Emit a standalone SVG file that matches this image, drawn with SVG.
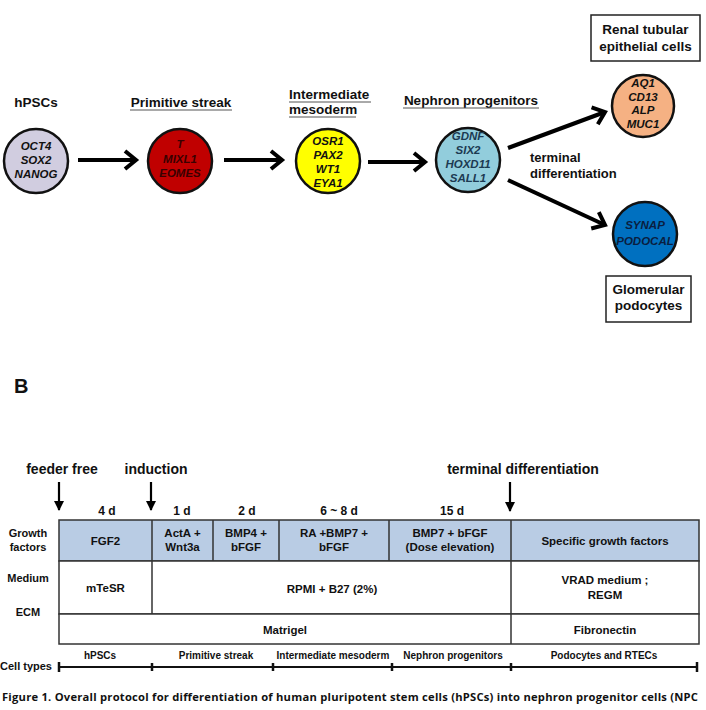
<svg xmlns="http://www.w3.org/2000/svg" width="706" height="710" viewBox="0 0 706 710">
<defs>
<style>
text{font-family:"Liberation Sans",Arial,sans-serif;font-weight:bold;fill:#111}
.hd{font-size:13.5px}
.hc{font-size:13.5px;text-anchor:middle}
.mk{font-size:11.5px;font-style:italic;text-anchor:middle}
.cell{font-size:11.5px;text-anchor:middle}
.rl{font-size:11px;text-anchor:middle}
.ct{font-size:10px;text-anchor:middle}
.dur{font-size:12px;text-anchor:middle}
.ev{font-size:14px;text-anchor:middle}
.circ{stroke:#111;stroke-width:2.5}
.ul{stroke:#555;stroke-width:1}
.arrA{stroke:#000;stroke-width:4;fill:none;stroke-linecap:butt}
.tbl{stroke:#333;stroke-width:1.5}
.box{fill:#fff;stroke:#222;stroke-width:1.5}
</style>
<marker id="chev" markerUnits="userSpaceOnUse" markerWidth="30" markerHeight="30" viewBox="-15 -15 30 30" refX="0" refY="0" orient="auto">
<path d="M-11,-9 L0,0 L-11,9" fill="none" stroke="#000" stroke-width="4" stroke-linejoin="miter"/>
</marker>
<marker id="tri" markerUnits="userSpaceOnUse" markerWidth="14" markerHeight="14" viewBox="-12 -7 14 14" refX="0" refY="0" orient="auto">
<path d="M-9,-5 L1,0 L-9,5 Z" fill="#000"/>
</marker>
</defs>
<rect width="706" height="710" fill="#fff"/>

<!-- Panel A headers -->
<g id="hdr-hpsc"><text class="hc" x="36" y="107">hPSCs</text></g>
<g id="hdr-ps"><text class="hc" x="181" y="107">Primitive streak</text><line class="ul" x1="130" y1="110" x2="232" y2="110"/></g>
<g id="hdr-im"><text class="hd" x="289" y="99">Intermediate</text><line class="ul" x1="289" y1="102" x2="371" y2="102"/>
<text class="hd" x="289" y="114">mesoderm</text><line class="ul" x1="289" y1="117" x2="356" y2="117"/></g>
<g id="hdr-np"><text class="hc" x="471" y="105">Nephron progenitors</text><line class="ul" x1="403" y1="108" x2="539" y2="108"/></g>

<!-- Connectors panel A -->
<g id="connectors-a">
<line class="arrA" x1="78" y1="160" x2="136" y2="160" marker-end="url(#chev)"/>
<line class="arrA" x1="224" y1="160" x2="282" y2="160" marker-end="url(#chev)"/>
<line class="arrA" x1="368" y1="162" x2="425" y2="162" marker-end="url(#chev)"/>
<line class="arrA" x1="508" y1="148" x2="605" y2="112" marker-end="url(#chev)"/>
<line class="arrA" x1="508" y1="180" x2="605" y2="225" marker-end="url(#chev)"/>
</g>
<g id="lbl-term"><text style="font-size:13px" x="530" y="162">terminal</text><text style="font-size:13px" x="530" y="178">differentiation</text></g>

<!-- Nodes panel A -->
<g id="node-hpsc">
<circle class="circ" cx="36" cy="161" r="32" fill="#d1cde0"/>
<text class="mk" x="36" y="150">OCT4</text><text class="mk" x="36" y="164">SOX2</text><text class="mk" x="36" y="178">NANOG</text>
</g>
<g id="node-ps">
<circle class="circ" cx="180" cy="161" r="32" fill="#c00000"/>
<text class="mk" x="180" y="148" style="fill:#3a0000">T</text><text class="mk" x="180" y="163" style="fill:#3a0000">MIXL1</text><text class="mk" x="180" y="177" style="fill:#3a0000">EOMES</text>
</g>
<g id="node-im">
<circle class="circ" cx="328" cy="161" r="32" fill="#ffff00"/>
<text class="mk" x="328" y="145">OSR1</text><text class="mk" x="328" y="159">PAX2</text><text class="mk" x="328" y="173">WT1</text><text class="mk" x="328" y="187">EYA1</text>
</g>
<g id="node-np">
<circle class="circ" cx="468" cy="160" r="32" fill="#92cddc"/>
<text class="mk" x="468" y="140" style="fill:#1c3a52">GDNF</text><text class="mk" x="468" y="154" style="fill:#1c3a52">SIX2</text><text class="mk" x="468" y="168" style="fill:#1c3a52">HOXD11</text><text class="mk" x="468" y="182" style="fill:#1c3a52">SALL1</text>
</g>
<g id="node-rtec">
<circle class="circ" cx="643" cy="106" r="31" fill="#f5b183"/>
<text class="mk" x="643" y="87">AQ1</text><text class="mk" x="643" y="101">CD13</text><text class="mk" x="643" y="114">ALP</text><text class="mk" x="643" y="128">MUC1</text>
</g>
<g id="node-pod">
<circle class="circ" cx="645" cy="234" r="32" fill="#0070c0"/>
<text class="mk" x="645" y="229" style="fill:#0a1e40">SYNAP</text><text class="mk" x="645" y="245" style="fill:#0a1e40">PODOCAL</text>
</g>
<g id="box-rtec">
<rect class="box" x="591" y="15" width="109" height="46"/>
<text class="hc" x="645.5" y="34">Renal tubular</text><text class="hc" x="645.5" y="51">epithelial cells</text>
</g>
<g id="box-pod">
<rect class="box" x="606" y="276" width="85" height="46"/>
<text class="hc" x="648.5" y="294">Glomerular</text><text class="hc" x="648.5" y="310">podocytes</text>
</g>

<!-- Panel B -->
<g id="label-b"><text x="14" y="393" style="font-size:20px">B</text></g>

<g id="events">
<text class="ev" x="62" y="474">feeder free</text>
<text class="ev" x="156" y="474">induction</text>
<text class="ev" x="523" y="474">terminal differentiation</text>
</g>
<g id="connectors-b">
<line x1="59" y1="482" x2="59" y2="510" stroke="#000" stroke-width="2.2" marker-end="url(#tri)"/>
<line x1="151" y1="482" x2="151" y2="510" stroke="#000" stroke-width="2.2" marker-end="url(#tri)"/>
<line x1="510" y1="482" x2="510" y2="511" stroke="#000" stroke-width="2.2" marker-end="url(#tri)"/>
</g>

<g id="durations">
<text class="dur" x="107" y="515">4 d</text>
<text class="dur" x="182" y="515">1 d</text>
<text class="dur" x="247" y="515">2 d</text>
<text class="dur" x="339" y="515">6 ~ 8 d</text>
<text class="dur" x="452" y="515">15 d</text>
</g>

<g id="row-labels">
<text class="rl" x="28" y="537">Growth</text><text class="rl" x="28" y="551">factors</text>
<text class="rl" x="28" y="582">Medium</text>
<text class="rl" x="28" y="616">ECM</text>
<text class="rl" x="26" y="670">Cell types</text>
</g>

<g id="table">
<rect x="59" y="520" width="640" height="41" fill="#b9cce4" class="tbl"/>
<rect x="59" y="561" width="640" height="53" fill="#fff" class="tbl"/>
<rect x="59" y="614" width="640" height="30" fill="#fff" class="tbl"/>
<line class="tbl" x1="152" y1="520" x2="152" y2="614"/>
<line class="tbl" x1="213" y1="520" x2="213" y2="561"/>
<line class="tbl" x1="279" y1="520" x2="279" y2="561"/>
<line class="tbl" x1="389" y1="520" x2="389" y2="561"/>
<line class="tbl" x1="511" y1="520" x2="511" y2="644"/>
</g>
<g id="gf-cells">
<text class="cell" x="105.5" y="545">FGF2</text>
<text class="cell" x="182.5" y="537">ActA +</text><text class="cell" x="182.5" y="551">Wnt3a</text>
<text class="cell" x="246" y="537">BMP4 +</text><text class="cell" x="246" y="551">bFGF</text>
<text class="cell" x="334" y="537">RA +BMP7 +</text><text class="cell" x="334" y="551">bFGF</text>
<text class="cell" x="450" y="537">BMP7 + bFGF</text><text class="cell" x="450" y="551">(Dose elevation)</text>
<text class="cell" x="605" y="545">Specific growth factors</text>
</g>
<g id="medium-cells">
<text class="cell" x="105.5" y="592">mTeSR</text>
<text class="cell" x="332" y="593">RPMI + B27 (2%)</text>
<text class="cell" x="605" y="584">VRAD medium ;</text><text class="cell" x="605" y="599">REGM</text>
</g>
<g id="ecm-cells">
<text class="cell" x="285" y="634">Matrigel</text>
<text class="cell" x="605" y="634">Fibronectin</text>
</g>

<g id="celltype-line">
<line x1="59" y1="667" x2="697" y2="667" stroke="#111" stroke-width="2"/>
<g stroke="#111" stroke-width="2.5">
<line x1="59" y1="662" x2="59" y2="672"/>
<line x1="152" y1="663" x2="152" y2="671"/>
<line x1="273" y1="663" x2="273" y2="671"/>
<line x1="392" y1="663" x2="392" y2="671"/>
<line x1="511" y1="663" x2="511" y2="671"/>
<line x1="697" y1="662" x2="697" y2="672"/>
</g>
<text class="ct" x="100" y="659">hPSCs</text>
<text class="ct" x="216" y="659">Primitive streak</text>
<text class="ct" x="333" y="659">Intermediate mesoderm</text>
<text class="ct" x="453" y="659">Nephron progenitors</text>
<text class="ct" x="604" y="659">Podocytes and RTECs</text>
</g>

<g id="caption">
<text x="2" y="701" style="font-family:'Open Sans','Liberation Sans',sans-serif;font-size:11.2px;font-weight:bold" textLength="696" lengthAdjust="spacing">Figure 1. Overall protocol for differentiation of human pluripotent stem cells (hPSCs) into nephron progenitor cells (NPC</text>
</g>
</svg>
